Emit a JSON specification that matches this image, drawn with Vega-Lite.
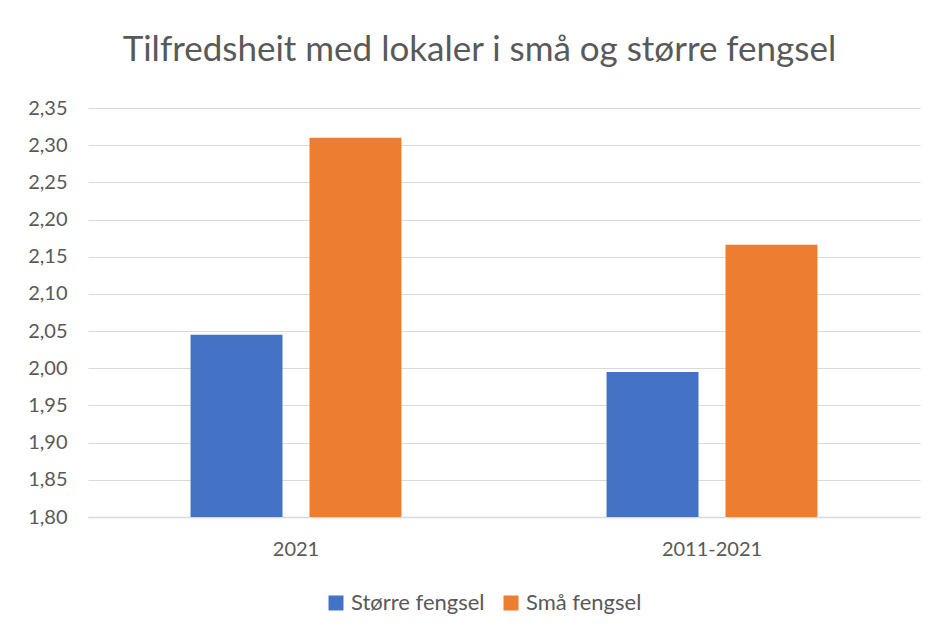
{
  "$schema": "https://vega.github.io/schema/vega-lite/v6.json",
  "autosize": "none",
  "width": 832,
  "height": 409,
  "padding": {"left": 88, "top": 108, "right": 19, "bottom": 120},
  "background": "white",
  "title": {
    "text": "Tilfredsheit med lokaler i små og større fengsel",
    "font": "Lato",
    "fontSize": 35,
    "fontWeight": "normal",
    "color": "#595959",
    "anchor": "start",
    "dx": 95,
    "offset": 30
  },
  "data": {
    "values": [
      {"periode": "2021", "gruppe": "Større fengsel", "verdi": 2.045},
      {"periode": "2021", "gruppe": "Små fengsel", "verdi": 2.31},
      {"periode": "2011-2021", "gruppe": "Større fengsel", "verdi": 1.995},
      {"periode": "2011-2021", "gruppe": "Små fengsel", "verdi": 2.166}
    ]
  },
  "mark": {"type": "bar", "clip": true},
  "encoding": {
    "x": {
      "field": "periode",
      "type": "nominal",
      "sort": ["2021", "2011-2021"],
      "scale": {"paddingInner": 0.493, "paddingOuter": 0.2465},
      "axis": {
        "title": null,
        "labelAngle": 0,
        "labelFont": "Lato",
        "labelFontSize": 20,
        "labelColor": "#595959",
        "labelPadding": 22,
        "ticks": false,
        "domainColor": "#D9D9D9",
        "domainWidth": 1.5
      }
    },
    "xOffset": {
      "field": "gruppe",
      "type": "nominal",
      "sort": ["Større fengsel", "Små fengsel"],
      "scale": {"paddingInner": 0.227, "paddingOuter": 0}
    },
    "y": {
      "field": "verdi",
      "type": "quantitative",
      "scale": {"domain": [1.8, 2.35], "zero": false, "nice": false},
      "axis": {
        "title": null,
        "values": [1.8, 1.85, 1.9, 1.95, 2.0, 2.05, 2.1, 2.15, 2.2, 2.25, 2.3, 2.35],
        "format": ".2f",
        "labelExpr": "replace(datum.label, '.', ',')",
        "labelFont": "Lato",
        "labelFontSize": 20,
        "labelColor": "#595959",
        "labelPadding": 21,
        "ticks": false,
        "domain": false,
        "gridColor": "#D9D9D9",
        "gridWidth": 1
      }
    },
    "color": {
      "field": "gruppe",
      "type": "nominal",
      "sort": ["Større fengsel", "Små fengsel"],
      "scale": {"domain": ["Større fengsel", "Små fengsel"], "range": ["#4472C4", "#ED7D31"]},
      "legend": {
        "title": null,
        "orient": "none",
        "direction": "horizontal",
        "legendX": 237,
        "legendY": 484,
        "symbolType": "square",
        "symbolSize": 225,
        "symbolStrokeWidth": 0,
        "labelFont": "Lato",
        "labelFontSize": 22,
        "labelColor": "#595959",
        "labelOffset": 4,
        "columnPadding": 15
      }
    }
  },
  "config": {
    "view": {"stroke": null}
  }
}
